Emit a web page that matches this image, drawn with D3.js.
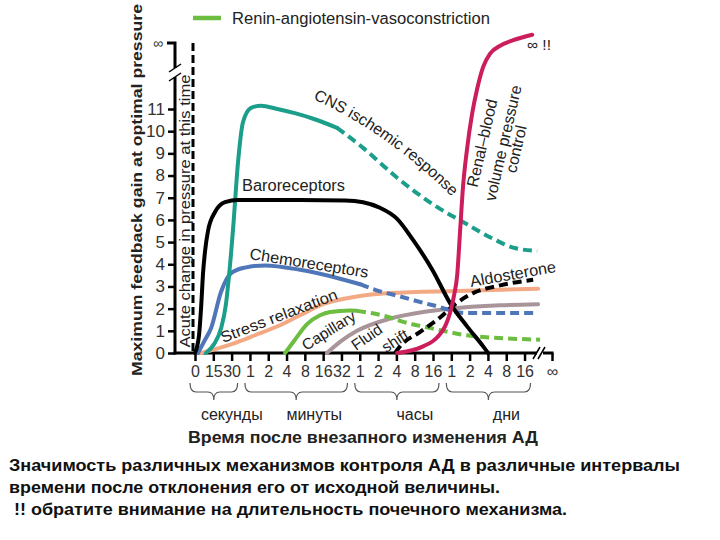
<!DOCTYPE html>
<html><head><meta charset="utf-8">
<script src="https://cdn.jsdelivr.net/npm/d3@7"></script>
<style>
body{margin:0;background:#fff}
svg{display:block}
text{font-family:"Liberation Sans",Arial,Helvetica,sans-serif}
</style>
</head><body>
<svg id="chart" width="720" height="540"></svg>
<script>
// ---------- data ----------
const xTickPos = d3.range(19);
const xTickLabels = ["0","15","30","1","2","4","8","16","32","1","2","4","8","16","1","2","4","8","16"];
const xInfPos = 19.5;
const yTicks = d3.range(12);
const groupNames = ["секунды","минуты","часы","дни"];
const groupRanges = [[0,2],[3,8],[9,13],[14,18]];

const baroreceptors = [[0,0],[0.22,0.8],[0.33,2.0],[0.44,3.6],[0.55,4.6],[0.71,5.5],[1.09,6.35],[1.64,6.8],[2.35,6.9],[5.74,6.9],[8.2,6.88],[9.18,6.8],[10.1,6.55],[11.04,6.05],[11.91,5.1],[13.0,3.7],[13.93,2.25],[14.86,1.2],[15.74,0.3],[16.01,0]];
const cnsSolid = [[0.6,0],[1.04,0.4],[1.42,1.1],[1.69,2.2],[1.86,3.5],[2.08,5.6],[2.35,8.6],[2.62,10.4],[3.06,11.05],[3.6,11.15],[4.5,11.0],[5.5,10.8],[6.5,10.55],[7.76,10.15]];
const cnsDashed = [[7.76,10.15],[9.18,9.25],[11.04,7.9],[13.0,6.7],[14.86,5.8],[16.28,5.15],[17.38,4.75],[18.69,4.6]];
const chemoSolid = [[0.16,0],[0.55,0.6],[0.87,1.1],[1.42,2.75],[1.97,3.6],[2.73,3.85],[3.83,3.95],[5.74,3.75],[7.92,3.35],[9.02,3.1]];
const chemoDashed = [[9.02,3.1],[9.84,2.85],[11.2,2.55],[13.0,2.15],[14.86,1.8],[18.47,1.8]];
const stressRelaxation = [[0.33,0],[1.0,0.15],[2.0,0.4],[3.28,0.8],[4.64,1.25],[5.74,1.7],[6.99,2.2],[8.85,2.55],[10.66,2.7],[14.32,2.8],[18.74,2.9]];
const capillarySolid = [[4.92,0],[5.46,0.6],[6.12,1.3],[6.83,1.7],[7.38,1.85],[8.47,1.92],[8.85,1.9]];
const capillaryDashed = [[8.85,1.9],[10.66,1.6],[11.2,1.45],[13.0,1.1],[14.86,0.8],[18.85,0.6]];
const fluidShift = [[7.21,0],[7.92,0.5],[8.85,1.0],[10.66,1.55],[12.46,1.85],[13.93,2.0],[16.67,2.15],[18.74,2.2]];
const aldosterone = [[10.93,0],[11.2,0.3],[12.3,0.95],[13.39,1.6],[14.21,2.2],[15.19,2.7],[16.67,3.05],[18.47,3.3]];
const renal = [[11.04,0],[12.46,0.3],[13.22,0.7],[13.66,1.2],[13.93,1.8],[14.15,2.6],[14.32,3.5],[14.48,5.5],[14.64,7.5],[14.86,9.2],[15.14,10.8],[15.41,11.9],[15.74,12.9],[16.12,13.5],[16.67,13.85],[17.38,14.1],[18.42,14.35]];

const bottomLines = [
  "Значимость различных механизмов контроля АД в различные интервалы",
  "времени после отклонения его от исходной величины.",
  " !! обратите внимание на длительность почечного механизма."
];

// ---------- setup ----------
const svg = d3.select("#chart");
svg.append("rect").attr("width",720).attr("height",540).attr("fill","#fff");

const x = d3.scaleLinear().domain([0, 19.5]).range([195, 552]);
const y = d3.scaleLinear().domain([0, 11]).range([353, 109]);

const C = {teal:"#1b9e8a", blue:"#4f76b8", salmon:"#f3a984", green:"#6cbd40", mauve:"#a89499", crimson:"#cc1d5c", black:"#000"};
const txt = "#222";

// legend
svg.append("line").attr("x1",193).attr("x2",221).attr("y1",18).attr("y2",18)
  .attr("stroke",C.green).attr("stroke-width",4.5);
svg.append("text").attr("x",232).attr("y",23.5).attr("font-size",16).attr("fill",txt)
  .attr("textLength",258).attr("lengthAdjust","spacingAndGlyphs")
  .text("Renin-angiotensin-vasoconstriction");

// dashed acute change line
svg.append("line").attr("x1",193).attr("x2",193).attr("y1",43).attr("y2",353)
  .attr("stroke","#000").attr("stroke-width",3).attr("stroke-dasharray","8,4");

// ---------- axes ----------
const yAxis = d3.axisLeft(y).tickValues(yTicks).tickSize(7).tickPadding(3);
const gy = svg.append("g").attr("transform","translate(175,0)").call(yAxis);
gy.select(".domain").remove();
gy.selectAll(".tick line").attr("stroke","#000").attr("stroke-width",2.5);
gy.selectAll(".tick text").attr("font-size",17).attr("fill","#333")
  .attr("font-family",'"Liberation Sans",Arial,sans-serif');

const xAxis = d3.axisBottom(x).tickValues(xTickPos.concat([xInfPos])).tickSize(8).tickPadding(5)
  .tickFormat((d,i) => i < xTickLabels.length ? xTickLabels[i] : "∞");
const gx = svg.append("g").attr("transform","translate(0,353)").call(xAxis);
gx.select(".domain").remove();
gx.selectAll(".tick line").attr("stroke","#000").attr("stroke-width",2.5);
gx.selectAll(".tick text").attr("font-size",16).attr("fill","#333")
  .attr("font-family",'"Liberation Sans",Arial,sans-serif');

// y axis line with break
const ax = svg.append("g").attr("stroke","#000").attr("fill","none");
ax.append("path").attr("d","M175,354.5 V77").attr("stroke-width",3);
ax.append("path").attr("d","M175,68 V43 H167").attr("stroke-width",3);
ax.append("path").attr("d","M169,81 L181,73 M169,72 L181,64").attr("stroke-width",1.5);
svg.append("text").attr("x",163).attr("y",48).attr("text-anchor","end").attr("font-size",14).attr("fill","#333").text("∞");

// x axis line with break
ax.append("path").attr("d","M173.5,353 H537").attr("stroke-width",3);
ax.append("path").attr("d","M543,353 H553.5").attr("stroke-width",3);
ax.append("path").attr("d","M533,359 L540,347 M538,359 L545,347").attr("stroke-width",1.5);

// ---------- curves ----------
const line = d3.line().x(d => x(d[0])).y(d => y(d[1])).curve(d3.curveMonotoneX);
function draw(data, color, dashed){
  svg.append("path").attr("d", line(data)).attr("fill","none")
    .attr("stroke", color).attr("stroke-width", 4)
    .attr("stroke-linecap", dashed ? "butt" : "round")
    .attr("stroke-dasharray", dashed ? "9,5" : null);
}
draw(stressRelaxation, C.salmon, false);
draw(fluidShift, C.mauve, false);
draw(capillarySolid, C.green, false);
draw(capillaryDashed, C.green, true);
draw(chemoSolid, C.blue, false);
draw(chemoDashed, C.blue, true);
draw(cnsSolid, C.teal, false);
draw(cnsDashed, C.teal, true);
draw(baroreceptors, C.black, false);
draw(aldosterone, C.black, true);
draw(renal, C.crimson, false);

// ---------- curve labels ----------
function label(t, tx, ty, rot, size, len){
  const el = svg.append("text").attr("transform",`translate(${tx},${ty}) rotate(${rot})`)
    .attr("font-size", size||15).attr("fill",txt).text(t);
  if (len) el.attr("textLength",len).attr("lengthAdjust","spacingAndGlyphs");
}
svg.append("defs").append("path").attr("id","cnsPath").attr("d","M313,99 Q392,134 465,210");
svg.append("text").attr("font-size",16).attr("fill",txt)
  .append("textPath").attr("href","#cnsPath").text("CNS ischemic response");
label("Baroreceptors", 242, 191, 0, 16, 103);
label("Chemoreceptors", 249, 259, 9, 16, 120);
label("Stress relaxation", 223, 343, -21, 15.5, 124);
label("Capillary", 306, 351, -32, 15.5);
label("Fluid", 356, 351, -35, 15.5);
label("shift", 386, 353, -33, 15.5);
label("Aldosterone", 471, 287, -10, 16, 87);
function rlabel(t, cx, cy){
  svg.append("text").attr("transform",`translate(${cx},${cy}) rotate(-77)`)
    .attr("font-size",16).attr("fill",txt).attr("text-anchor","middle").attr("dy","0.35em").text(t);
}
rlabel("Renal–blood", 482, 143);
rlabel("volume pressure", 503, 143);
rlabel("control", 516, 149);
svg.append("text").attr("x",527).attr("y",50).attr("font-size",15.5).attr("fill",txt).text("∞ !!");

// ---------- axis titles ----------
svg.append("text").attr("transform","translate(142,190) rotate(-90)").attr("text-anchor","middle")
  .attr("font-size",15.5).attr("font-weight","bold").attr("fill",txt)
  .attr("textLength",372).attr("lengthAdjust","spacingAndGlyphs")
  .text("Maximum feedback gain at optimal pressure");
svg.append("text").attr("transform","translate(190,211) rotate(-90)").attr("text-anchor","middle")
  .attr("font-size",15.5).attr("fill",txt)
  .attr("textLength",273).attr("lengthAdjust","spacingAndGlyphs")
  .text("Acute change in pressure at this time");

// braces and group labels
groupRanges.forEach((r,i) => {
  const x1 = x(r[0]) - 5, x2 = x(r[1]) + 6, xm = (x1 + x2)/2;
  const y0 = 383, y1 = 392, y2 = 400, rr = 6;
  svg.append("path").attr("fill","none").attr("stroke","#555").attr("stroke-width",1.2)
    .attr("d",`M${x1},${y0} Q${x1},${y1} ${x1+rr},${y1} L${xm-rr},${y1} Q${xm},${y1} ${xm},${y2} Q${xm},${y1} ${xm+rr},${y1} L${x2-rr},${y1} Q${x2},${y1} ${x2},${y0}`);
  svg.append("text").attr("x", xm + 18).attr("y",420).attr("text-anchor","middle")
    .attr("font-size",16).attr("fill",txt).text(groupNames[i]);
});
svg.append("text").attr("x",363).attr("y",443).attr("text-anchor","middle")
  .attr("font-size",16).attr("font-weight","bold").attr("fill",txt)
  .attr("textLength",350).attr("lengthAdjust","spacingAndGlyphs")
  .text("Время после внезапного изменения АД");

// bottom caption
const capW = [671, 491, 558];
bottomLines.forEach((t,i) => {
  svg.append("text").attr("x",9).attr("y",471 + i*22).attr("xml:space","preserve")
    .style("white-space","pre")
    .attr("font-size",17).attr("font-weight","bold").attr("fill","#111")
    .attr("font-family",'"Liberation Sans Narrow","Arial Narrow","Liberation Sans",Arial,sans-serif')
    .attr("textLength",capW[i]).attr("lengthAdjust","spacingAndGlyphs")
    .text(t);
});
</script>
</body></html>
